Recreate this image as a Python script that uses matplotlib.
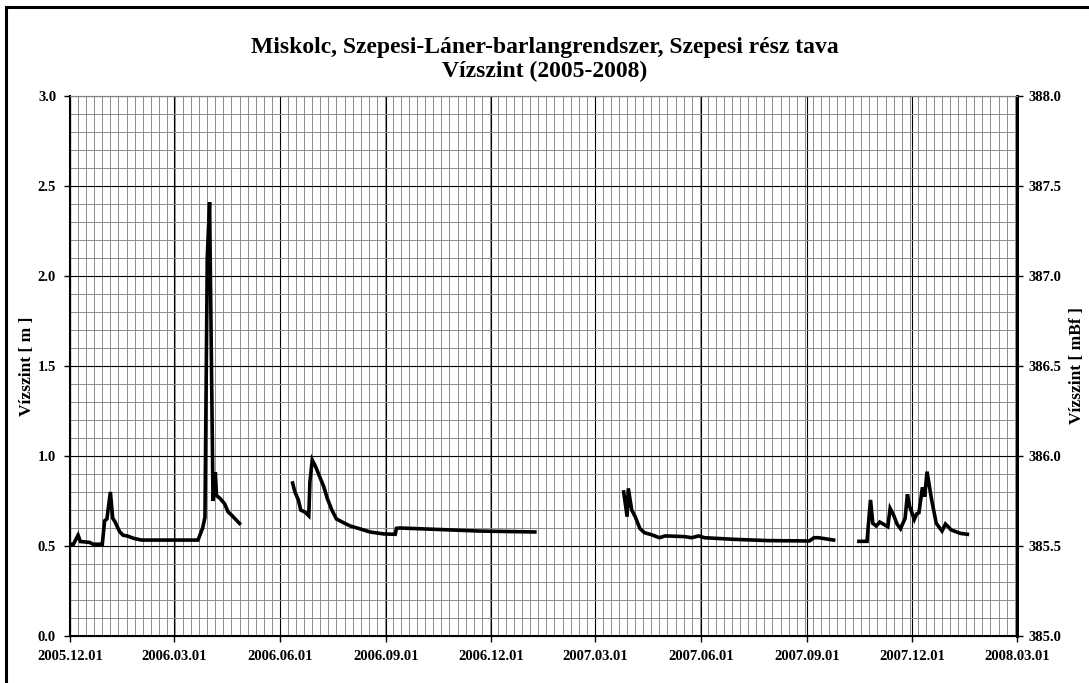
import numpy as np
import pandas as pd
import matplotlib
matplotlib.use("Agg")
import matplotlib.pyplot as plt
import matplotlib.dates as mdates
from matplotlib.patches import Rectangle
from matplotlib.ticker import MultipleLocator, FixedLocator, FormatStrFormatter

plt.rcParams['font.family'] = ['Liberation Serif', 'DejaVu Serif']
plt.rcParams['font.weight'] = 'bold'

# water level readings, gaps (no measurement) marked with None
dates = [
    "2005-12-01", "2005-12-04", "2005-12-08", "2005-12-10", "2005-12-18", "2005-12-21",
    "2005-12-29", "2005-12-31", "2006-01-02", "2006-01-05", "2006-01-07", "2006-01-09",
    "2006-01-13", "2006-01-16", "2006-01-20", "2006-01-25", "2006-02-01", "2006-03-22",
    "2006-03-26", "2006-03-28", "2006-03-30", "2006-04-01", "2006-04-04", "2006-04-06",
    "2006-04-07", "2006-04-10", "2006-04-14", "2006-04-17", "2006-04-20", "2006-04-27",
    "2006-05-01",
    "2006-06-12", "2006-06-14", "2006-06-17", "2006-06-19", "2006-06-23", "2006-06-26",
    "2006-06-27", "2006-06-29", "2006-07-02", "2006-07-06", "2006-07-09", "2006-07-12",
    "2006-07-16", "2006-07-20", "2006-07-26", "2006-08-01", "2006-08-09", "2006-08-18",
    "2006-08-30", "2006-09-09", "2006-09-10", "2006-09-13", "2006-10-24", "2006-11-21",
    "2007-01-08",
    "2007-01-15",
    "2007-03-26", "2007-03-29", "2007-03-30", "2007-04-02", "2007-04-05", "2007-04-09",
    "2007-04-13", "2007-04-19", "2007-04-26", "2007-05-01", "2007-05-10", "2007-05-18",
    "2007-05-24", "2007-05-30", "2007-06-04", "2007-06-30", "2007-07-29", "2007-09-03",
    "2007-09-07", "2007-09-11", "2007-09-24",
    "2007-10-01",
    "2007-10-16", "2007-10-23", "2007-10-24", "2007-10-26", "2007-10-28", "2007-10-31",
    "2007-11-03", "2007-11-06", "2007-11-10", "2007-11-12", "2007-11-15", "2007-11-18",
    "2007-11-21", "2007-11-25", "2007-11-27", "2007-11-29", "2007-12-03", "2007-12-05",
    "2007-12-07", "2007-12-10", "2007-12-12", "2007-12-14", "2007-12-18", "2007-12-22",
    "2007-12-27", "2007-12-30", "2008-01-04", "2008-01-12", "2008-01-18",
]
level = [
    0.51, 0.51, 0.56, 0.525, 0.52, 0.51,
    0.51, 0.64, 0.65, 0.80, 0.655, 0.635,
    0.58, 0.56, 0.555, 0.543, 0.533, 0.533,
    0.60, 0.66, 2.10, 2.41, 0.75, 0.91,
    0.78, 0.765, 0.735, 0.69, 0.672, 0.625,
    None,
    0.85, 0.80, 0.755, 0.70, 0.687, 0.668,
    0.857, 0.978, 0.94, 0.876, 0.83, 0.765,
    0.70, 0.65, 0.63, 0.611, 0.596, 0.578,
    0.567, 0.565, 0.598, 0.60, 0.59, 0.583,
    0.578,
    None,
    0.80, 0.663, 0.82, 0.70, 0.663, 0.598,
    0.574, 0.563, 0.546, 0.556, 0.554, 0.552,
    0.546, 0.556, 0.546, 0.537, 0.53, 0.528,
    0.546, 0.546, 0.533,
    None,
    0.526, 0.526, 0.607, 0.756, 0.626, 0.611,
    0.633, 0.622, 0.607, 0.709, 0.672, 0.622,
    0.596, 0.654, 0.787, 0.718, 0.648, 0.678,
    0.685, 0.826, 0.774, 0.913, 0.756, 0.626,
    0.583, 0.622, 0.589, 0.57, 0.565,
]

x_start = "2005-12-01"
x_end = "2008-03-01"
base_level = 385.0  # mBf of the 0 m mark

title_1 = "Miskolc, Szepesi-Láner-barlangrendszer, Szepesi rész tava"
title_2 = "Vízszint (2005-2008)"

t = pd.to_datetime(dates)
y = np.array([np.nan if v is None else v for v in level], dtype=float)

fig = plt.figure(figsize=(10.89, 6.83), dpi=100)
ax = fig.add_axes([70 / 1089, 47 / 683, 947 / 1089, 540 / 683])

ax.plot(t, y, color='black', lw=2.6, solid_joinstyle='miter', zorder=5)

x0 = pd.Timestamp(x_start)
x1 = pd.Timestamp(x_end)
ax.set_xlim(x0, x1)
ax.set_ylim(0, 3)

ax.xaxis.set_major_locator(mdates.MonthLocator(bymonth=[3, 6, 9, 12], bymonthday=1))
ax.xaxis.set_major_formatter(mdates.DateFormatter('%Y.%m.%d'))
weeks = pd.date_range(x0, x1, freq='7D')
ax.xaxis.set_minor_locator(FixedLocator(mdates.date2num(weeks)))
ax.yaxis.set_major_locator(MultipleLocator(0.5))
ax.yaxis.set_minor_locator(MultipleLocator(0.1))
ax.yaxis.set_major_formatter(FormatStrFormatter('%.1f'))

ax.grid(which='minor', color='#8c8c8c', lw=0.7)
ax.grid(which='major', color='black', lw=0.8)
ax.set_axisbelow(True)

ax.tick_params(which='major', direction='out', length=4, width=1, labelsize=10.5, pad=6)
ax.tick_params(which='minor', length=0)
for lab in ax.get_xticklabels() + ax.get_yticklabels():
    lab.set_fontweight('bold')

for side in ['left', 'bottom']:
    ax.spines[side].set_linewidth(1.5)
ax.spines['top'].set_color('#808080')
ax.spines['right'].set_linewidth(2)

ax.set_ylabel("Vízszint [ m ]", fontsize=12.5, fontweight='bold', labelpad=2)

ax2 = ax.twinx()
ax2.set_ylim(base_level, base_level + 3)
ax2.yaxis.set_major_locator(MultipleLocator(0.5))
ax2.yaxis.set_major_formatter(FormatStrFormatter('%.1f'))
ax2.tick_params(direction='out', length=4, width=1, labelsize=10.5, pad=4)
for lab in ax2.get_yticklabels():
    lab.set_fontweight('bold')
ax2.spines['right'].set_linewidth(2)
ax2.spines['top'].set_color('#808080')
ax2.set_ylabel("Vízszint [ mBf ]", fontsize=12.5, fontweight='bold', labelpad=6)

fig.text(545 / 1089, 1 - 47 / 683, title_1, ha='center', va='center',
         fontsize=17, fontweight='bold')
fig.text(545 / 1089, 1 - 71 / 683, title_2, ha='center', va='center',
         fontsize=17, fontweight='bold')

# chart frame, cut off at the right and bottom edge
fig.patches.append(Rectangle((6 / 1089, -0.1), 1.1, 1.1 - 7 / 683,
                             transform=fig.transFigure, fill=False,
                             edgecolor='black', lw=2.2))

fig.savefig("out.png", dpi=100)
